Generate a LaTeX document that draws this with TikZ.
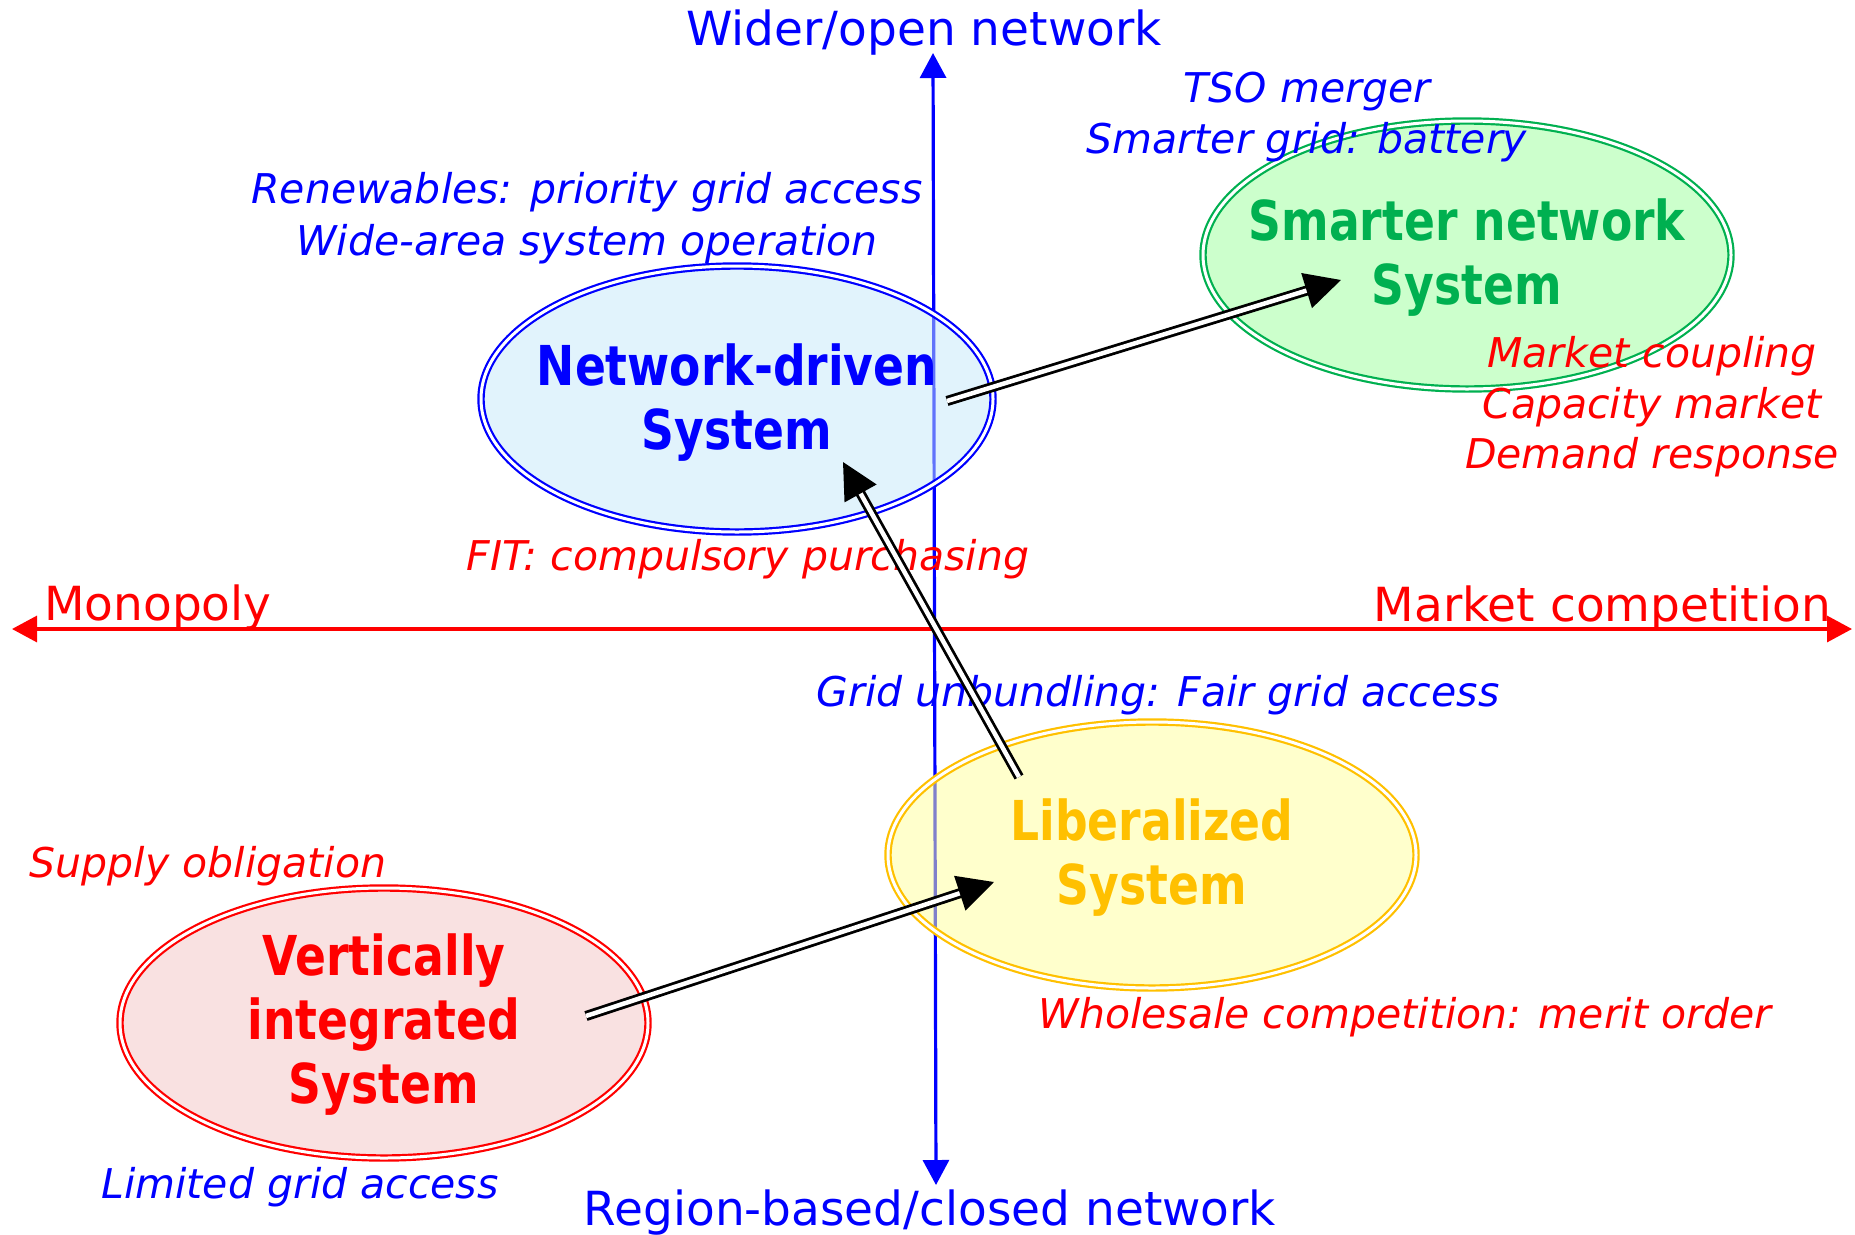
\documentclass[tikz,border=0pt]{standalone}
\usepackage{fontspec}
\setmainfont{DejaVu Sans}
\newfontfamily\ellfont{DejaVu Sans Bold}[FakeStretch=0.83]
\usetikzlibrary{arrows.meta,shapes.geometric}
\definecolor{axblue}{RGB}{0,0,255}
\definecolor{axred}{RGB}{255,0,0}
\definecolor{sysgreen}{RGB}{0,176,80}
\definecolor{sysgold}{RGB}{255,192,0}
\definecolor{ndfill}{RGB}{195,231,249}
\definecolor{smfill}{RGB}{153,255,153}
\definecolor{lbfill}{RGB}{255,255,153}
\definecolor{vifill}{RGB}{243,195,195}
\tikzset{
  axisline/.style={line width=3.2pt,
    {Triangle[length=25pt,width=26pt]}-{Triangle[length=25pt,width=26pt]}},
  syst/.style={ellipse, inner sep=0pt, line width=2.2pt, double=white,
    double distance=3pt, fill opacity=0.5, draw opacity=1},
  systext/.style={align=center, inner sep=0pt, font=\ellfont\fontsize{55}{64}\selectfont},
  axlabel/.style={font=\fontsize{47}{55}\selectfont, inner sep=0pt},
  note/.style={font=\itshape\fontsize{41}{51}\selectfont, inner sep=0pt, anchor=base},
  trans/.style={draw=black, line width=2.8pt, double=white, double distance=4.5pt,
    -{Triangle[length=36pt,width=36pt]}},
}
\begin{document}
\begin{tikzpicture}[x=1pt,y=-1pt]
\useasboundingbox (0,0) rectangle (1855,1234);
% axes
\coordinate (hl) at (12,629);
\coordinate (hr) at (1852,629);
\coordinate (vt) at (933,53);
\coordinate (vb) at (936,1185);
\draw[axisline, axred] (hl) -- (hr);
\draw[axisline, axblue] (vb) -- (vt);
% axis labels
\node[axlabel, text=axblue] (wider) at (924,33) {Wider/open network};
\node[axlabel, text=axblue] (region) at (930,1213) {Region-based/closed network};
\node[axlabel, text=axred, anchor=base west] (mono) at (44,620) {Monopoly};
\node[axlabel, text=axred, anchor=base east] (mkt) at (1831,621) {Market competition};
% systems
\node[syst, draw=axblue, fill=ndfill, minimum width=512pt, minimum height=266pt]
  (nd) at (737,399) {};
\node[syst, draw=sysgreen, fill=smfill, minimum width=528pt, minimum height=268pt]
  (sm) at (1467,255) {};
\node[syst, draw=sysgold, fill=lbfill, minimum width=528pt, minimum height=266pt]
  (lb) at (1152,855) {};
\node[syst, draw=axred, fill=vifill, minimum width=528pt, minimum height=270pt]
  (vi) at (384,1023) {};
\node[systext, text=axblue] (ndt) at ([yshift=-4pt]nd.center) {Network-driven\\System};
\node[systext, text=sysgreen] (smt) at ([yshift=-3pt]sm.center) {Smarter network\\System};
\node[systext, text=sysgold] (lbt) at ([yshift=-3pt]lb.center) {Liberalized\\System};
\node[systext, text=axred] (vit) at ([yshift=-2pt]vi.center) {Vertically\\integrated\\System};
% notes
\node[note, text=axblue] (tso) at (1307,102) {TSO merger};
\node[note, text=axblue] (smg) at (1307,153) {Smarter grid: battery};
\node[note, text=axblue] (ren) at (587,203) {Renewables: priority grid access};
\node[note, text=axblue] (wide) at (587,255) {Wide-area system operation};
\node[note, text=axred] (mc) at (1652,367) {Market coupling};
\node[note, text=axred] (cm) at (1652,418) {Capacity market};
\node[note, text=axred] (dr) at (1652,468) {Demand response};
\node[note, text=axred] (fit) at (748,570) {FIT: compulsory purchasing};
\node[note, text=axblue] (gu) at (1158,706) {Grid unbundling: Fair grid access};
\node[note, text=axred] (so) at (208,877) {Supply obligation};
\node[note, text=axred] (wc) at (1405,1028) {Wholesale competition: merit order};
\node[note, text=axblue] (lg) at (300,1198) {Limited grid access};
% transitions
\coordinate (a1s) at (586,1016);
\coordinate (a1e) at (994,882);
\coordinate (a2s) at (1019,777);
\coordinate (a2e) at (843,462);
\coordinate (a3s) at (947,401);
\coordinate (a3e) at (1341,280);
\draw[trans] (a1s) -- (a1e);
\draw[trans] (a2s) -- (a2e);
\draw[trans] (a3s) -- (a3e);
\end{tikzpicture}
\end{document}
